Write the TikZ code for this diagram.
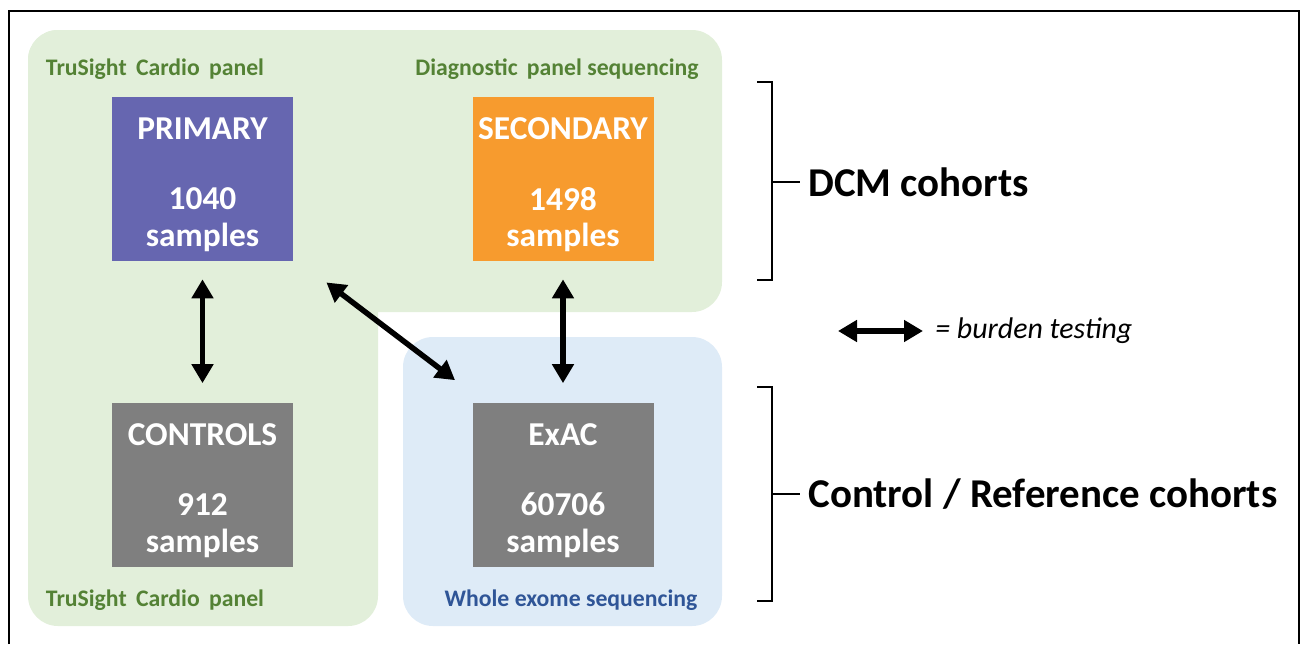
\documentclass[tikz,border=0pt]{standalone}
\usepackage{fontspec}
\setmainfont{Carlito}
\usetikzlibrary{arrows.meta,positioning}
\definecolor{panelgreen}{RGB}{226,239,218}
\definecolor{exomeblue}{RGB}{222,235,247}
\definecolor{primaryblue}{RGB}{102,102,176}
\definecolor{secondaryorange}{RGB}{247,155,46}
\definecolor{controlgray}{RGB}{127,127,127}
\definecolor{labelgreen}{RGB}{84,130,53}
\definecolor{labelblue}{RGB}{47,85,151}

\begin{document}
\begin{tikzpicture}[x=0.2mm,y=-0.2mm,
    cohort/.style={minimum width=36.2mm, minimum height=32.8mm, inner sep=0pt},
    cohorttext/.style={text=white, align=center, yshift=-1.2mm,
        font=\bfseries\fontsize{19}{21}\selectfont},
    platform/.style={font=\bfseries\fontsize{13.5}{16}\selectfont},
    burden/.style={line width=1.1mm, {Triangle[length=3.8mm,width=4.2mm]}-{Triangle[length=3.8mm,width=4.2mm]}},
    bracket/.style={line width=0.55mm},
    group/.style={font=\bfseries\fontsize{23.3}{28}\selectfont, anchor=west, inner sep=1.6mm}
]
\useasboundingbox (0,0) rectangle (1302,644);
\draw[line width=0.4mm] (9,644) -- (9,11) -- (1299,11) -- (1299,644);

\fill[panelgreen, rounded corners=6mm] (28,30) rectangle (722,312);
\fill[panelgreen, rounded corners=6mm] (28,30) rectangle (378,626);
\fill[exomeblue, rounded corners=6mm] (403,337) rectangle (722,626);

\node[platform, text=labelgreen] (tsctop) at (155,69) {TruSight\, Cardio\, panel};
\node[platform, text=labelgreen] (diag) at (557,69) {Diagnostic\, panel sequencing};
\node[platform, text=labelgreen] (tscbot) at (155,600) {TruSight\, Cardio\, panel};
\node[platform, text=labelblue] (wes) at (571,600) {Whole exome sequencing};

\node[cohort, fill=primaryblue, label={[cohorttext]center:PRIMARY\\[19pt]1040\\samples}] (primary) at (202.5,179) {};
\node[cohort, fill=secondaryorange, label={[cohorttext]center:SECONDARY\\[19pt]1498\\samples}] (secondary) at (563,179) {};
\node[cohort, fill=controlgray, label={[cohorttext]center:CONTROLS\\[19pt]912\\samples}] (controls) at (202.5,484.5) {};
\node[cohort, fill=controlgray, label={[cohorttext]center:ExAC\\[19pt]60706\\samples}] (exac) at (563,484.5) {};

\draw[burden, shorten <=3.6mm, shorten >=3.8mm] (primary.south) -- (controls.north);
\draw[burden, shorten <=3.6mm, shorten >=3.8mm] (secondary.south) -- (exac.north);
\draw[burden, shorten <=8.3mm, shorten >=4.3mm] ([yshift=0.8mm]primary.south east) -- ([yshift=1.8mm]exac.north west);

\node[anchor=west, inner sep=0pt, font=\itshape\fontsize{17}{20}\selectfont] (legend) at (935,331) {= burden testing};
\coordinate (legtail) at (838,331);
\draw[burden, shorten >=2.4mm] (legtail) -- (legend.west);

\node[group] (dcm) at (800,182) {DCM cohorts};
\draw[bracket] (757,82) -- (772,82) -- (772,280) -- (757,280);
\draw[bracket] (772,182) -- (dcm.west);

\node[group] (ref) at (800,494) {Control / Reference cohorts};
\draw[bracket] (757,387) -- (772,387) -- (772,601) -- (757,601);
\draw[bracket] (772,494) -- (ref.west);
\end{tikzpicture}
\end{document}
